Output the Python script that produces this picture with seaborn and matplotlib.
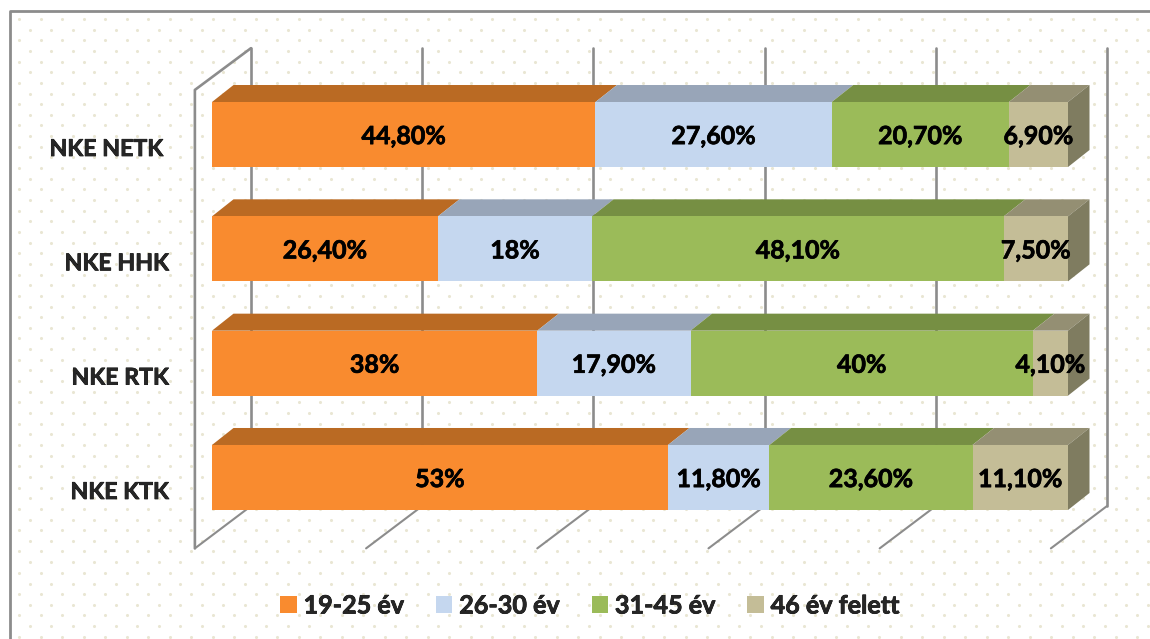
import numpy as np
import pandas as pd
import matplotlib
matplotlib.use("Agg")
import matplotlib.pyplot as plt
import matplotlib.patheffects as pe
from matplotlib.patches import Polygon, Patch
from matplotlib.transforms import Affine2D
import seaborn as sns

karok = ["NKE NETK ", "NKE HHK", "NKE RTK", "NKE KTK"]
korcsoportok = ["19-25 év", "26-30 év", "31-45 év", "46 év felett"]

ev_19_25 = [44.8, 26.4, 38.0, 53.0]
ev_26_30 = [27.6, 18.0, 17.9, 11.8]
ev_31_45 = [20.7, 48.1, 40.0, 23.6]
ev_46_felett = [6.9, 7.5, 4.1, 11.1]

cimke_19_25 = ["44,80%", "26,40%", "38%", "53%"]
cimke_26_30 = ["27,60%", "18%", "17,90%", "11,80%"]
cimke_31_45 = ["20,70%", "48,10%", "40%", "23,60%"]
cimke_46_felett = ["6,90%", "7,50%", "4,10%", "11,10%"]

szinek = ["#F98B2F", "#C5D7EF", "#9BBB59", "#C4BD97"]
teto_szinek = ["#BA6A23", "#98A5B8", "#768F43", "#948F73"]
oldal_szin = "#7F7C60"
racs_szin = "#8C8C8C"
pont_szin = "#E9E6D3"

W, H = 1150, 639
DX, DY = 21.5 / 8.56, 17 / 114.33  # bar depth in data units

sns.set_style("white")
plt.rcParams["font.family"] = ["Lato", "DejaVu Sans"]
plt.rcParams["font.weight"] = "bold"

vastag = [pe.withStroke(linewidth=0.5, foreground="black")]

fig = plt.figure(figsize=(W / 100, H / 100), dpi=100)

# dotted background and the outer frame
bg = fig.add_axes([0, 0, 1, 1], zorder=0)
bg.set_xlim(0, W)
bg.set_ylim(H, 0)
bg.axis("off")
px, py = np.meshgrid(np.arange(19, W, 21.5), np.arange(19, H, 21.3))
bg.scatter(px.ravel(), py.ravel(), s=5, color=pont_szin, linewidths=0)
bg.scatter(px.ravel() + 10.7, py.ravel() + 10.7, s=5, color=pont_szin, linewidths=0)
bg.plot([10, 10, W], [H, 11, 11], color=racs_szin, lw=2)

# x: 0-100 spans 212..1068 px, y: categories are 114.33 px apart, first at 134.5
ax = fig.add_axes([212 / W, 1 - (134.5 + 3.5 * 114.33) / H, 856 / W, 4 * 114.33 / H], zorder=1)
ax.patch.set_alpha(0)

df = pd.DataFrame({"kar": karok, "a": ev_19_25, "b": ev_26_30, "c": ev_31_45, "d": ev_46_felett})
sorok = [("a", cimke_19_25), ("b", cimke_26_30), ("c", cimke_31_45), ("d", cimke_46_felett)]
osszeg = df[["a", "b", "c", "d"]].sum(axis=1).to_numpy()

# walls and gridlines behind the bars
for v in [0, 20, 40, 60, 80, 100]:
    ax.plot([v + 4.55, v + 4.55], [-0.755, 3.25], color=racs_szin, lw=1.9, zorder=1, clip_on=False)
    ax.plot([v + 4.55, v - 2.0], [3.25, 3.62], color=racs_szin, lw=1.5, zorder=1, clip_on=False)
ax.plot([-2.0, -2.0, 4.55], [3.62, -0.39, -0.755], color=racs_szin, lw=1.9, zorder=1, clip_on=False)

bal = np.zeros(len(karok))
for i, (oszlop, cimkek) in enumerate(sorok):
    szazalek = df[oszlop].to_numpy() / osszeg * 100
    sns.barplot(x=szazalek, y=df["kar"], order=karok, left=bal, width=65 / 114.33, color=szinek[i],
                saturation=1, errorbar=None, orient="y", ax=ax, zorder=4, linewidth=0)
    kontener = ax.containers[-1]
    for b in kontener:
        x0, y0, w, h = b.get_x(), b.get_y(), b.get_width(), b.get_height()
        teto = [(x0, y0), (x0 + w, y0), (x0 + w + DX, y0 - DY), (x0 + DX, y0 - DY)]
        ax.add_patch(Polygon(teto, closed=True, facecolor=teto_szinek[i], edgecolor="none", zorder=3, clip_on=False))
        if i == len(sorok) - 1:
            x1 = x0 + w
            oldal = [(x1, y0), (x1 + DX, y0 - DY), (x1 + DX, y0 + h - DY), (x1, y0 + h)]
            ax.add_patch(Polygon(oldal, closed=True, facecolor=oldal_szin, edgecolor="none", zorder=3, clip_on=False))
    szovegek = ax.bar_label(kontener, labels=cimkek, label_type="center", fontsize=18, fontweight="bold",
                            color="black", zorder=6)
    for t in szovegek:
        t.set_position((0, -1.5))
        t.set_path_effects(vastag)
    bal = bal + szazalek

ax.set_xlim(0, 100)
ax.set_ylim(3.5, -0.5)
ax.set_xlabel("")
ax.set_ylabel("")
ax.set_xticks([])
ax.tick_params(axis="y", length=0, pad=31)
for t in ax.get_yticklabels():
    t.set_fontsize(16.7)
    t.set_fontweight("bold")
    t.set_path_effects(vastag)
    t.set_transform(t.get_transform() + Affine2D().translate(0, -13))
sns.despine(ax=ax, left=True, bottom=True)

kezek = [Patch(facecolor=c, edgecolor="none") for c in szinek]
jel = fig.legend(kezek, korcsoportok, ncol=4, loc="center", bbox_to_anchor=(590 / W, 1 - 606 / H), frameon=False,
                 fontsize=18.1, handlelength=0.64, handleheight=0.64, handletextpad=0.28, columnspacing=1.28)
for t in jel.get_texts():
    t.set_path_effects(vastag)

fig.savefig("out.png", dpi=100)
